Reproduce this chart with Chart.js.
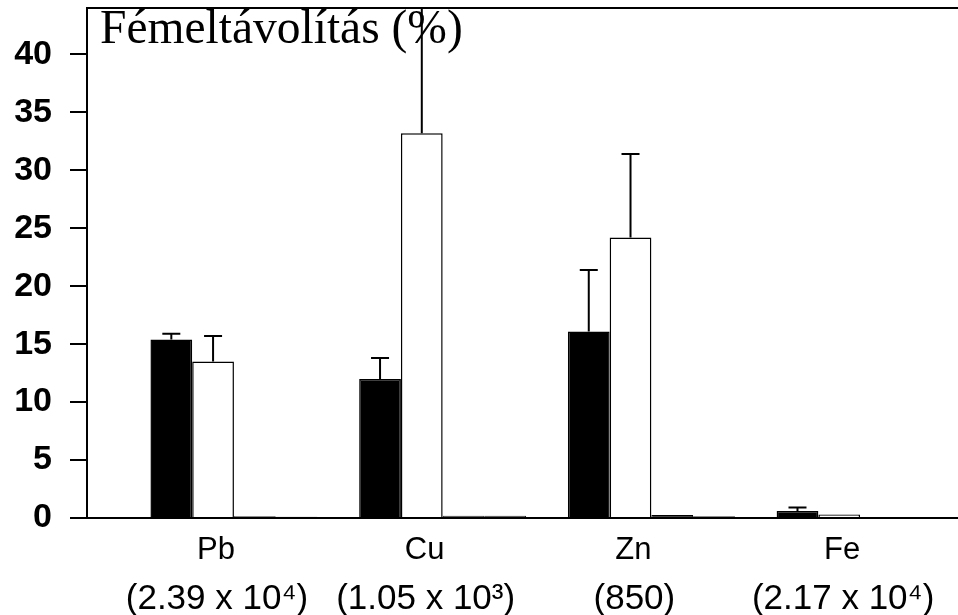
<!DOCTYPE html>
<html>
<head>
<meta charset="utf-8">
<script src="https://cdn.jsdelivr.net/npm/chart.js@4"></script>
<style>
  html, body { margin: 0; padding: 0; background: #fff; overflow: hidden; }
</style>
</head>
<body>
<canvas id="chart" width="958" height="615"></canvas>
<script>
const categories = ["Pb", "Cu", "Zn", "Fe"];
const concentrations = ["(2.39 x 10⁴)", "(1.05 x 10³)", "(850)", "(2.17 x 10⁴)"];

const blackValues = [15.4, 12.0, 16.1, 0.6];
const blackErrors = [0.5, 1.8, 5.3, 0.3];
const whiteValues = [13.5, 33.2, 24.2, 0.3];
const whiteErrors = [2.2, 12.0, 7.2, 0];
const thirdValues = [0.15, 0.2, 0.25, 0];
const fourthValues = [0.1, 0.2, 0.15, 0];

const yTitle = "Fémeltávolítás (%)";

function toPoints(values) {
  return values.map((v, i) => ({ x: i, y: v }));
}

// only the upper half of each error bar is drawn, like in the scan
const errorBars = {
  id: "errorBars",
  afterDatasetsDraw(chart) {
    const ctx = chart.ctx;
    const y = chart.scales.y;
    const area = chart.chartArea;
    ctx.save();
    ctx.beginPath();
    ctx.rect(area.left, area.top, area.right - area.left, area.bottom - area.top);
    ctx.clip();
    ctx.strokeStyle = "#000";
    ctx.lineWidth = 2;
    chart.data.datasets.forEach((ds, di) => {
      if (!ds.errors) return;
      chart.getDatasetMeta(di).data.forEach((bar, i) => {
        const err = ds.errors[i];
        if (!err) return;
        const top = y.getPixelForValue(ds.data[i].y + err);
        ctx.beginPath();
        ctx.moveTo(bar.x, bar.y);
        ctx.lineTo(bar.x, top);
        ctx.moveTo(bar.x - 9, top);
        ctx.lineTo(bar.x + 9, top);
        ctx.stroke();
      });
    });
    ctx.restore();
  },
};

const frameAndTitle = {
  id: "frameAndTitle",
  afterDraw(chart) {
    const ctx = chart.ctx;
    const area = chart.chartArea;
    ctx.save();
    ctx.strokeStyle = "#000";
    ctx.lineWidth = 2;
    ctx.beginPath();
    ctx.moveTo(area.left, area.top);
    ctx.lineTo(area.right, area.top);
    ctx.stroke();
    ctx.fillStyle = "#000";
    ctx.font = '47.5px "Liberation Serif", "Times New Roman", serif';
    ctx.textBaseline = "alphabetic";
    ctx.fillText(yTitle, area.left + 13, area.top + 35);
    ctx.restore();
  },
};

function integerTicks(axis) {
  axis.ticks = categories.map((c, i) => ({ value: i }));
}

function noPadding(scale) {
  scale.paddingTop = 0;
  scale.paddingBottom = 0;
  scale.paddingLeft = 0;
  scale.paddingRight = 0;
}

new Chart(document.getElementById("chart").getContext("2d"), {
  type: "bar",
  data: {
    datasets: [
      {
        label: "black",
        data: toPoints(blackValues),
        errors: blackErrors,
        backgroundColor: "#000",
        borderColor: "#000",
        borderWidth: 1.5,
      },
      {
        label: "white",
        data: toPoints(whiteValues),
        errors: whiteErrors,
        backgroundColor: "#fff",
        borderColor: "#000",
        borderWidth: 1.5,
      },
      {
        label: "third",
        data: toPoints(thirdValues),
        backgroundColor: "#444",
        borderColor: "#000",
        borderWidth: 1,
      },
      {
        label: "fourth",
        data: toPoints(fourthValues),
        backgroundColor: "#444",
        borderColor: "#000",
        borderWidth: 1,
      },
    ],
  },
  options: {
    responsive: false,
    animation: false,
    layout: { padding: { top: 8, right: 0, left: 0, bottom: 0 } },
    datasets: {
      bar: { categoryPercentage: 0.8, barPercentage: 1.0, borderSkipped: "start" },
    },
    scales: {
      x: {
        type: "linear",
        position: "bottom",
        weight: 0,
        offset: false,
        min: -0.704,
        max: 3.469,
        afterBuildTicks: integerTicks,
        afterFit(scale) { noPadding(scale); scale.height = 44; },
        grid: { display: false },
        border: { display: true, color: "#000", width: 2 },
        ticks: {
          padding: 6,
          labelOffset: -18,
          color: "#000",
          font: { family: '"Liberation Sans", Arial, sans-serif', size: 31 },
          callback: (value) => categories[value],
        },
      },
      x2: {
        type: "linear",
        position: "bottom",
        weight: 1,
        offset: false,
        min: -0.704,
        max: 3.469,
        afterBuildTicks: integerTicks,
        afterFit(scale) { noPadding(scale); scale.height = 53; },
        grid: { display: false },
        border: { display: false },
        ticks: {
          padding: 8,
          labelOffset: -17,
          color: "#000",
          font: { family: '"Liberation Sans", Arial, sans-serif', size: 35 },
          callback: (value) => concentrations[value],
        },
      },
      y: {
        min: 0,
        max: 44,
        afterFit(scale) { noPadding(scale); scale.width = 87; },
        grid: {
          display: true,
          drawOnChartArea: false,
          drawTicks: true,
          tickLength: 17,
          color: "#000",
          lineWidth: 2,
        },
        border: { display: true, color: "#000", width: 2 },
        ticks: {
          stepSize: 5,
          includeBounds: false,
          padding: 18,
          color: "#000",
          font: { family: '"Liberation Sans", Arial, sans-serif', size: 34, weight: "bold" },
        },
      },
    },
    plugins: {
      legend: { display: false },
      tooltip: { enabled: false },
    },
  },
  plugins: [errorBars, frameAndTitle],
});
</script>
</body>
</html>
